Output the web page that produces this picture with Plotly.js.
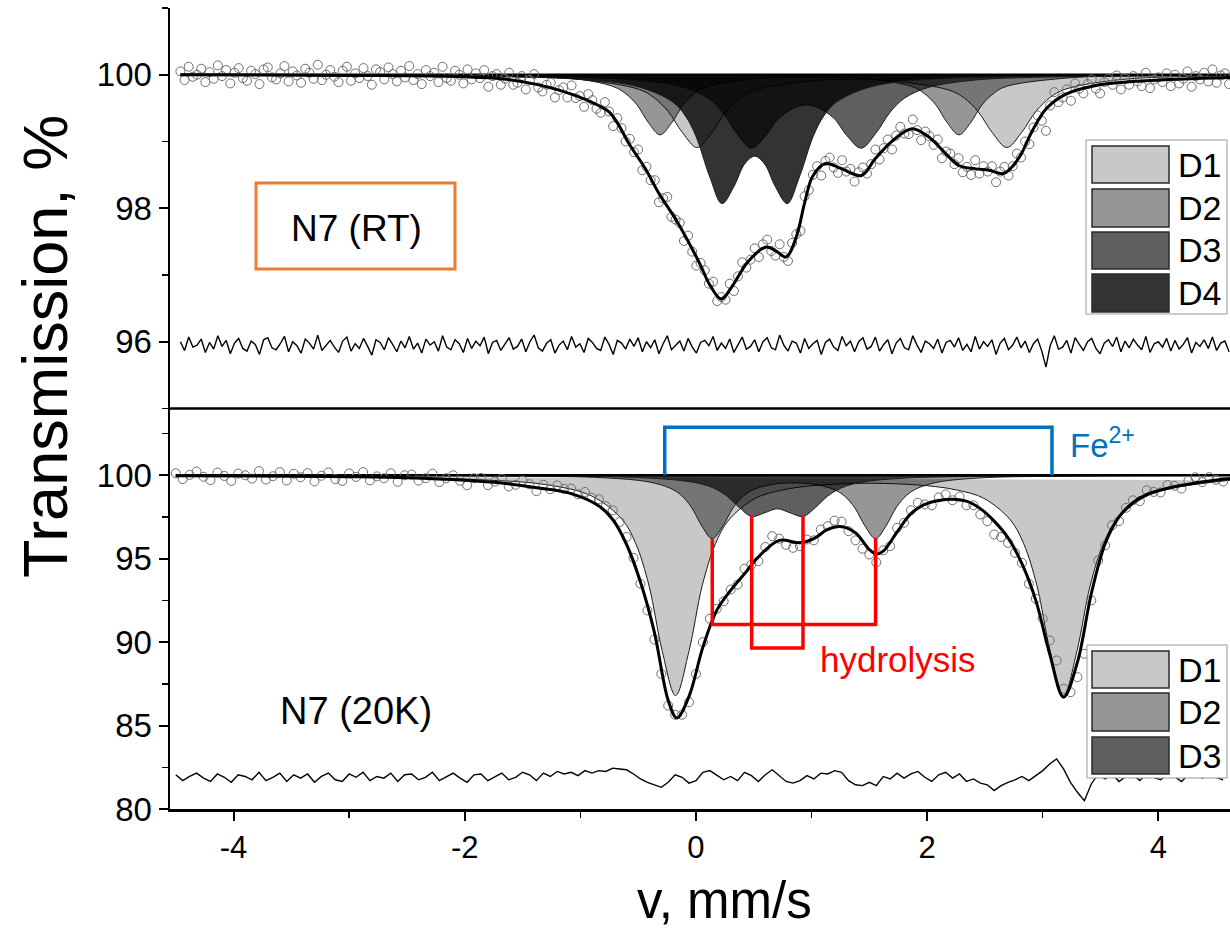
<!DOCTYPE html>
<html><head><meta charset="utf-8">
<script src="https://cdn.plot.ly/plotly-3.0.1.min.js"></script>
<style>html,body{margin:0;padding:0;background:#fff}#chart{width:1230px;height:931px}</style>
</head><body><div id="chart"></div>
<script>
// ---------- velocity channel calibration ----------
const vTopStart = -4.46, vTopStep = 0.036;   // RT spectrum channels
const vBotStart = -4.50, vBotStep = 0.06;    // 20K spectrum channels

// ---------- N7 (RT) : measured points ----------
const rtData = [
100.05,99.92,100.12,99.97,100.00,100.09,99.89,100.04,99.94,100.14,
99.98,100.07,99.87,100.03,100.10,99.95,99.91,100.06,100.01,99.86,
100.08,100.11,99.96,99.93,100.02,100.13,99.90,100.05,99.99,99.88,
100.09,100.03,99.94,100.15,99.92,100.00,100.07,99.97,99.89,100.06,
100.12,99.91,100.02,99.95,100.10,99.98,99.85,100.08,100.04,99.93,
100.11,100.01,99.90,100.06,99.96,100.13,99.92,100.01,99.86,100.07,
99.98,100.03,99.89,100.12,99.95,99.91,100.06,100.00,99.87,100.08,
99.93,100.02,99.95,100.07,99.82,99.98,100.01,99.85,99.94,100.03,
99.85,99.88,99.98,99.78,99.92,100.01,99.81,99.75,99.85,99.88,
99.66,99.77,99.81,99.66,99.84,99.65,99.68,99.52,99.71,99.62,
99.49,99.43,99.59,99.45,99.23,99.35,99.20,99.00,99.04,98.84,
98.88,98.57,98.62,98.42,98.42,98.09,98.15,98.17,97.87,97.83,
97.78,97.51,97.59,97.35,97.14,97.18,97.07,96.87,96.90,96.61,
96.67,96.63,96.87,96.76,96.98,97.19,97.11,97.23,97.40,97.27,
97.46,97.53,97.36,97.29,97.46,97.27,97.21,97.48,97.61,97.66,
98.18,98.27,98.50,98.63,98.49,98.71,98.76,98.61,98.53,98.72,
98.55,98.59,98.40,98.54,98.61,98.52,98.66,98.88,98.73,98.90,
99.03,98.88,99.09,99.22,99.12,99.11,99.33,99.17,99.02,99.15,
99.08,98.95,99.03,98.75,98.85,98.82,98.66,98.75,98.54,98.62,
98.50,98.72,98.52,98.63,98.55,98.63,98.39,98.55,98.62,98.49,
98.63,98.82,98.76,99.00,98.96,99.21,99.39,99.31,99.16,99.54,
99.74,99.59,99.66,99.78,99.61,99.87,99.79,99.72,99.86,99.93,
99.79,99.72,99.89,99.94,99.85,99.99,99.78,99.94,99.85,99.98,
99.90,99.83,100.03,99.80,99.93,99.96,99.89,100.02,99.83,100.00,
99.87,99.94,100.05,99.82,99.98,99.93,100.03,99.90,100.08,99.88,
99.99,100.02,99.86];

// residual (plotted with offset)
const rtResid = [
96.00,95.87,96.07,95.92,95.95,96.04,95.84,95.99,95.89,96.09,
95.93,96.02,95.82,95.98,96.05,95.90,95.86,96.01,95.96,95.81,
96.03,96.06,95.91,95.88,95.97,96.08,95.85,96.00,95.94,95.83,
96.04,95.98,95.89,96.10,95.87,95.95,96.02,95.92,95.84,96.01,
96.07,95.86,95.97,95.90,96.05,95.93,95.80,96.03,95.99,95.88,
96.06,95.96,95.85,96.01,95.91,96.08,95.89,95.98,95.83,96.04,
95.95,96.00,95.86,96.09,95.92,95.88,96.03,95.97,95.84,96.05,
95.90,96.01,95.94,96.07,95.82,95.99,96.02,95.87,95.96,96.06,
95.89,95.93,96.04,95.85,96.00,96.10,95.91,95.86,95.98,96.03,
95.83,95.95,96.01,95.88,96.08,95.92,95.97,95.84,96.05,95.99,
95.90,95.87,96.07,95.96,95.81,96.02,95.98,95.89,96.04,95.93,
96.06,95.85,96.00,95.91,96.03,95.82,95.97,96.09,95.88,95.95,
96.01,95.86,96.05,95.92,95.83,95.99,96.02,95.94,96.08,95.87,
95.98,95.90,96.04,95.84,95.96,96.07,95.89,95.93,96.03,95.85,
96.00,96.06,95.91,95.88,96.10,95.95,95.86,96.01,95.98,95.83,
96.05,95.90,95.97,96.02,95.81,95.99,96.04,95.92,95.87,96.08,
95.94,96.01,95.85,96.00,96.06,95.89,95.93,96.07,95.86,95.96,
96.03,95.82,95.98,96.05,95.91,95.88,96.09,95.95,95.84,96.01,
95.97,95.90,96.04,95.83,95.99,96.02,95.92,96.06,95.87,95.96,
95.85,96.08,95.89,96.00,95.93,96.03,95.81,95.98,96.05,95.88,
95.95,96.07,95.91,96.01,95.84,95.97,96.04,95.86,95.62,95.94,
96.09,95.89,95.92,96.02,95.83,96.06,95.96,95.87,96.00,96.05,
95.90,95.82,95.98,96.03,95.93,96.07,95.85,96.01,95.91,96.04,
95.95,95.88,96.08,95.84,95.97,96.00,95.92,96.05,95.86,96.02,
95.89,95.96,96.06,95.83,95.99,95.93,96.03,95.90,96.07,95.87,
95.98,96.01,95.85];

// fit envelope
const rtFitV = [-4.46,-3.0,-2.0,-1.68,-1.39,-1.185,-0.93,-0.75,-0.68,-0.58,-0.43,-0.32,-0.17,0.03,0.12,0.22,0.32,0.45,0.61,0.70,0.78,0.87,0.94,1.01,1.12,1.25,1.43,1.55,1.70,1.87,2.02,2.16,2.275,2.42,2.535,2.66,2.74,2.81,2.91,3.03,3.2,3.46,3.89,4.62];
const rtFitT = [100.0,99.99,99.97,99.94,99.86,99.77,99.61,99.44,99.28,98.97,98.57,98.22,97.82,97.18,96.85,96.64,96.85,97.20,97.42,97.35,97.27,97.58,98.08,98.48,98.67,98.60,98.49,98.74,99.01,99.19,99.06,98.82,98.64,98.59,98.57,98.52,98.63,98.80,99.16,99.49,99.71,99.84,99.91,99.96];

// subspectra (doublets)
const rtD1V = [-4.46,-2.5,-1.5,-1.0,-0.49,-0.365,-0.24,-0.115,0.01,0.135,0.26,0.385,0.51,1.01,1.35,1.69,2.19,2.315,2.44,2.565,2.69,2.815,2.94,3.065,3.19,3.69,4.61];
const rtD1T = [99.995,99.99,99.97,99.93,99.78,99.66,99.45,99.13,98.91,99.13,99.45,99.66,99.77,99.91,99.93,99.91,99.77,99.66,99.45,99.13,98.91,99.13,99.45,99.66,99.78,99.93,99.98];
const rtD2V = [-4.46,-2.5,-1.5,-1.0,-0.71,-0.61,-0.51,-0.41,-0.31,-0.21,-0.11,-0.01,0.09,0.49,0.98,1.475,1.875,1.975,2.075,2.175,2.275,2.375,2.475,2.575,2.675,3.275,4.0,4.61];
const rtD2T = [99.997,99.99,99.97,99.93,99.82,99.72,99.55,99.28,99.10,99.28,99.55,99.72,99.82,99.94,99.96,99.94,99.82,99.72,99.55,99.28,99.10,99.28,99.55,99.72,99.82,99.96,99.99,99.99];
const rtD3V = [-4.46,-2.0,-1.0,-0.5,-0.1,0.105,0.23,0.355,0.48,0.605,0.73,0.955,1.18,1.305,1.43,1.555,1.68,1.805,2.01,2.41,2.91,3.91,4.61];
const rtD3T = [99.995,99.98,99.96,99.92,99.81,99.65,99.44,99.12,98.90,99.09,99.37,99.55,99.37,99.09,98.90,99.12,99.44,99.65,99.81,99.92,99.96,99.98,99.99];
const rtD4V = [-4.46,-2.0,-1.0,-0.5,-0.2,-0.09,0.0,0.12,0.225,0.33,0.42,0.5075,0.595,0.685,0.79,0.895,1.015,1.105,1.215,1.515,2.015,3.015,4.61];
const rtD4T = [99.99,99.975,99.93,99.82,99.59,99.38,99.08,98.47,98.07,98.33,98.66,98.78,98.66,98.33,98.07,98.47,99.08,99.38,99.59,99.82,99.93,99.975,99.99];

// ---------- N7 (20K) ----------
const ltData = [
100.12,99.77,100.02,100.22,99.91,99.71,100.16,99.96,99.66,100.10,
100.00,99.80,100.25,99.74,99.94,100.19,99.69,100.09,99.88,100.13,
99.63,99.97,100.17,99.77,99.66,100.11,99.90,100.19,99.69,99.93,
99.82,100.12,99.61,100.00,100.04,99.68,99.82,100.10,99.59,99.82,
100.00,99.67,99.40,99.82,99.84,99.41,99.62,99.78,99.33,99.43,
99.68,99.46,99.05,99.43,99.16,99.39,99.18,99.20,98.86,99.00,
98.65,98.56,98.15,97.90,97.20,96.30,95.05,93.50,91.90,90.15,
88.10,86.20,85.65,85.65,86.40,88.10,90.00,91.40,92.00,92.45,
93.15,93.45,94.40,94.65,94.85,95.70,96.35,96.20,95.83,95.65,
95.75,96.15,96.10,96.75,96.95,97.28,97.22,96.65,96.10,95.60,
95.25,94.78,95.50,95.75,96.85,97.15,97.90,98.35,98.25,98.20,
98.67,98.85,98.50,98.72,98.20,98.20,97.65,97.25,96.45,96.30,
95.95,95.35,94.75,93.50,92.60,91.40,90.10,88.90,87.20,87.00,
87.90,89.30,92.50,94.90,95.80,97.00,97.25,98.05,98.50,98.45,
99.10,99.00,98.97,99.42,99.37,99.20,99.67,99.88,99.59,99.89,
99.73,99.62];

const ltResid = [
82.05,81.70,81.95,82.15,81.85,81.65,82.10,81.90,81.60,82.05,
81.95,81.75,82.20,81.70,81.90,82.15,81.65,82.05,81.85,82.10,
81.60,81.95,82.15,81.75,81.65,82.10,81.90,82.20,81.70,81.95,
81.85,82.15,81.65,82.05,82.10,81.75,81.90,82.20,81.70,81.95,
82.15,81.85,81.60,82.05,82.10,81.70,81.95,82.15,81.75,81.90,
82.20,82.05,81.70,82.15,81.95,82.25,82.10,82.20,82.00,82.30,
82.15,82.30,82.25,82.45,82.40,82.35,82.10,81.80,81.60,81.45,
81.30,81.60,82.05,81.90,81.55,81.70,82.20,82.30,82.00,81.75,
81.95,81.70,82.20,82.00,81.65,82.05,82.35,82.00,81.65,81.55,
81.70,82.00,81.80,82.15,82.10,82.30,82.20,81.70,81.45,81.40,
81.60,81.40,81.95,81.80,82.15,81.85,82.10,82.25,81.90,81.65,
82.05,82.20,81.85,82.10,81.65,81.80,81.55,81.45,81.10,81.40,
81.60,81.75,81.95,81.70,82.00,82.30,82.70,83.00,82.40,81.60,
81.00,80.50,81.50,82.10,81.80,82.10,81.65,81.95,82.05,81.70,
82.15,81.90,81.75,82.10,81.95,81.65,82.05,82.20,81.85,82.10,
81.90,81.75];

const ltFitV = [-4.5,-3.5,-3.0,-2.5,-2.0,-1.68,-1.38,-1.08,-0.84,-0.72,-0.6,-0.48,-0.36,-0.24,-0.165,-0.06,0.06,0.18,0.30,0.42,0.54,0.72,0.90,1.02,1.14,1.26,1.38,1.50,1.56,1.62,1.74,1.86,1.98,2.16,2.34,2.46,2.58,2.70,2.82,2.94,3.06,3.18,3.30,3.42,3.54,3.66,3.78,3.90,4.08,4.32,4.62];
const ltFitT = [99.97,99.94,99.91,99.85,99.70,99.53,99.25,98.90,98.16,97.35,95.85,93.60,90.60,86.50,85.45,86.75,89.70,91.90,93.10,94.10,95.10,96.10,95.95,96.20,96.75,96.92,96.55,95.55,95.28,95.45,96.60,97.70,98.25,98.55,98.45,98.00,97.25,96.25,94.70,92.50,89.30,86.70,88.80,92.90,95.90,97.50,98.35,98.85,99.22,99.53,99.80];

const ltD1V = [-4.5,-3.5,-2.5,-1.8,-1.3,-0.9,-0.636,-0.521,-0.406,-0.291,-0.176,-0.061,0.054,0.169,0.284,0.514,0.744,1.0,1.502,2.0,2.26,2.49,2.72,2.835,2.95,3.065,3.18,3.295,3.41,3.525,3.64,3.87,4.1,4.62];
const ltD1T = [99.95,99.92,99.85,99.71,99.44,98.75,97.33,95.91,93.38,89.44,86.80,89.44,93.38,95.90,97.32,98.62,99.11,99.37,99.52,99.37,99.11,98.62,97.32,95.90,93.38,89.44,86.80,89.44,93.38,95.91,97.33,98.64,99.19,99.70];
const ltD2V = [-4.5,-2.5,-1.5,-0.8,-0.4,-0.219,-0.129,-0.039,0.051,0.141,0.231,0.321,0.411,0.501,0.681,0.8475,1.014,1.194,1.284,1.374,1.464,1.554,1.644,1.734,1.824,1.914,2.094,2.494,3.194,4.62];
const ltD2T = [99.99,99.98,99.94,99.85,99.59,99.21,98.81,98.08,96.96,96.20,96.94,98.05,98.76,99.15,99.47,99.54,99.47,99.15,98.76,98.05,96.94,96.20,96.96,98.08,98.81,99.21,99.59,99.85,99.94,99.98];
const ltD3V = [-4.5,-2.5,-1.5,-0.8,-0.4,-0.1,0.052,0.16,0.267,0.375,0.482,0.59,0.704,0.818,0.926,1.034,1.141,1.248,1.356,1.508,1.808,2.208,2.908,3.908,4.62];
const ltD3T = [99.99,99.98,99.96,99.91,99.83,99.66,99.47,99.21,98.76,98.07,97.53,97.74,97.99,97.74,97.53,98.07,98.76,99.21,99.47,99.66,99.83,99.91,99.96,99.98,99.99];

const rtLegend = ['D1','D2','D3','D4'];
const ltLegend = ['D1','D2','D3'];
const xTickVals = [-4,-2,0,2,4];
const xTickText = ['-4','-2','0','2','4'];

// ---------- styling ----------
const compFill = {D1:'rgba(0,0,0,0.216)', D2:'rgba(0,0,0,0.41)', D3:'rgba(0,0,0,0.627)', D4:'rgba(0,0,0,0.8)'};
const swatch = {D1:'#c8c8c8', D2:'#969696', D3:'#5f5f5f', D4:'#333333'};

const rtV = rtData.map((_, i) => +(vTopStart + i * vTopStep).toFixed(4));
const ltV = ltData.map((_, i) => +(vBotStart + i * vBotStep).toFixed(4));

function comp(x, y, name, ya) {
  return {type:'scatter', mode:'lines', x:x, y:y, yaxis:ya, fill:'toself', fillcolor:compFill[name],
    line:{color:'#1a1a1a', width:1, shape:'spline', smoothing:1}, hoverinfo:'skip', name:name};
}
const traces = [
  comp(rtD1V, rtD1T, 'D1', 'y'), comp(rtD2V, rtD2T, 'D2', 'y'), comp(rtD3V, rtD3T, 'D3', 'y'), comp(rtD4V, rtD4T, 'D4', 'y'),
  comp(ltD1V, ltD1T, 'D1', 'y2'), comp(ltD2V, ltD2T, 'D2', 'y2'), comp(ltD3V, ltD3T, 'D3', 'y2'),
  {type:'scatter', mode:'lines', x:[rtV[0], 4.62], y:[100,100], yaxis:'y', line:{color:'#000', width:2.5}, hoverinfo:'skip'},
  {type:'scatter', mode:'lines', x:[ltV[0], 4.62], y:[100,100], yaxis:'y2', line:{color:'#000', width:2.5}, hoverinfo:'skip'},
  {type:'scatter', mode:'markers', x:rtV, y:rtData, yaxis:'y', marker:{symbol:'circle-open', size:9, color:'#6e6e6e', line:{width:1}}, hoverinfo:'skip'},
  {type:'scatter', mode:'markers', x:ltV, y:ltData, yaxis:'y2', marker:{symbol:'circle-open', size:9, color:'#6e6e6e', line:{width:1}}, hoverinfo:'skip'},
  {type:'scatter', mode:'lines', x:rtFitV, y:rtFitT, yaxis:'y', line:{color:'#000', width:3, shape:'spline', smoothing:1}, hoverinfo:'skip'},
  {type:'scatter', mode:'lines', x:ltFitV, y:ltFitT, yaxis:'y2', line:{color:'#000', width:3, shape:'spline', smoothing:1}, hoverinfo:'skip'},
  {type:'scatter', mode:'lines', x:rtV, y:rtResid, yaxis:'y', line:{color:'#000', width:1.4}, hoverinfo:'skip'},
  {type:'scatter', mode:'lines', x:ltV, y:ltResid, yaxis:'y2', line:{color:'#000', width:1.4}, hoverinfo:'skip'}
];

// pixel -> paper helpers for the decorations
const L0 = 170, R0 = 1230, T0 = 8, B0 = 809;
const px = x => (x - L0) / (R0 - L0);
const py = y => (B0 - y) / (B0 - T0);

const shapes = [
  {type:'line', xref:'paper', yref:'paper', x0:0, x1:1, y0:0.5, y1:0.5, line:{color:'#000', width:2.5}},
  {type:'rect', xref:'paper', yref:'paper', x0:px(256), x1:px(455), y0:py(269), y1:py(183), line:{color:'#ED7D31', width:3}},
  {type:'path', xref:'x', yref:'y2', path:'M -0.27 100 L -0.27 102.88 L 3.08 102.88 L 3.08 100', line:{color:'#0070C0', width:3.5}},
  {type:'path', xref:'x', yref:'y2', path:'M 0.141 96.16 L 0.141 91.05 L 1.554 91.05 L 1.554 96.26', line:{color:'#FF0000', width:3.5}},
  {type:'path', xref:'x', yref:'y2', path:'M 0.482 97.56 L 0.482 89.65 L 0.926 89.65 L 0.926 97.56', line:{color:'#FF0000', width:3.5}},
  {type:'rect', xref:'paper', yref:'paper', x0:px(1086), x1:px(1227), y0:py(314), y1:py(140), fillcolor:'#fff', line:{color:'#9a9a9a', width:1}},
  {type:'rect', xref:'paper', yref:'paper', x0:px(1087), x1:px(1227), y0:py(778), y1:py(645), fillcolor:'#fff', line:{color:'#9a9a9a', width:1}}
];
const annotations = [
  {xref:'paper', yref:'paper', x:px(356), y:py(228), text:'N7 (RT)', showarrow:false, xanchor:'center', yanchor:'middle', font:{size:37}},
  {xref:'paper', yref:'paper', x:px(356), y:py(711), text:'N7 (20K)', showarrow:false, xanchor:'center', yanchor:'middle', font:{size:38}},
  {xref:'paper', yref:'paper', x:px(1068), y:py(443), text:'Fe<sup>2+</sup>', showarrow:false, xanchor:'left', yanchor:'middle', font:{size:33, color:'#0070C0'}},
  {xref:'paper', yref:'paper', x:px(818), y:py(659), text:'hydrolysis', showarrow:false, xanchor:'left', yanchor:'middle', font:{size:35, color:'#FF0000'}},
  {xref:'paper', yref:'paper', x:px(45), y:py(347), text:'Transmission, %', textangle:-90, showarrow:false, xanchor:'center', yanchor:'middle', font:{size:63}},
  {xref:'paper', yref:'paper', x:px(724), y:py(900), text:'v, mm/s', showarrow:false, xanchor:'center', yanchor:'middle', font:{size:51}}
];
const rtRows = [[146,183],[189,227],[232,269],[274,312]];
rtLegend.forEach((n, k) => {
  shapes.push({type:'rect', xref:'paper', yref:'paper', x0:px(1092), x1:px(1169), y0:py(rtRows[k][1]), y1:py(rtRows[k][0]), fillcolor:swatch[n], line:{color:'#2a2a2a', width:1.5}});
  annotations.push({xref:'paper', yref:'paper', x:px(1176), y:py((rtRows[k][0]+rtRows[k][1])/2), text:n, showarrow:false, xanchor:'left', yanchor:'middle', font:{size:34}});
});
const ltRows = [[651,688],[693,731],[737,774]];
ltLegend.forEach((n, k) => {
  shapes.push({type:'rect', xref:'paper', yref:'paper', x0:px(1092), x1:px(1169), y0:py(ltRows[k][1]), y1:py(ltRows[k][0]), fillcolor:swatch[n], line:{color:'#2a2a2a', width:1.5}});
  annotations.push({xref:'paper', yref:'paper', x:px(1176), y:py((ltRows[k][0]+ltRows[k][1])/2), text:n, showarrow:false, xanchor:'left', yanchor:'middle', font:{size:34}});
});

const tickStyle = {ticks:'outside', ticklen:9, tickwidth:2, tickcolor:'#000', showline:true, linecolor:'#000', linewidth:2.5, showgrid:false, zeroline:false, fixedrange:true};
const layout = {
  width:1230, height:931,
  margin:{l:170, r:0, t:8, b:122, pad:0},
  paper_bgcolor:'#fff', plot_bgcolor:'rgba(0,0,0,0)',
  showlegend:false,
  font:{family:'Liberation Sans, Arial, sans-serif', color:'#000'},
  xaxis:Object.assign({domain:[0,1], range:[-4.55,4.62], anchor:'y2', tickmode:'array', tickvals:xTickVals, ticktext:xTickText,
    minor:{dtick:1, tick0:0, ticklen:6, tickwidth:1.5, tickcolor:'#000', ticks:'outside', showgrid:false},
    tickfont:{size:31}}, tickStyle),
  yaxis:Object.assign({domain:[0.5,1], range:[95,101], anchor:'x', tick0:0, dtick:2,
    minor:{dtick:1, ticklen:6, tickwidth:1.5, tickcolor:'#000', ticks:'outside', showgrid:false},
    tickfont:{size:33}}, tickStyle),
  yaxis2:Object.assign({domain:[0,0.5], range:[80,104], anchor:'x', tick0:0, dtick:5,
    minor:{dtick:2.5, ticklen:6, tickwidth:1.5, tickcolor:'#000', ticks:'outside', showgrid:false},
    tickfont:{size:33}}, tickStyle),
  shapes:shapes, annotations:annotations
};
Plotly.newPlot('chart', traces, layout, {staticPlot:true, displayModeBar:false});
</script></body></html>
